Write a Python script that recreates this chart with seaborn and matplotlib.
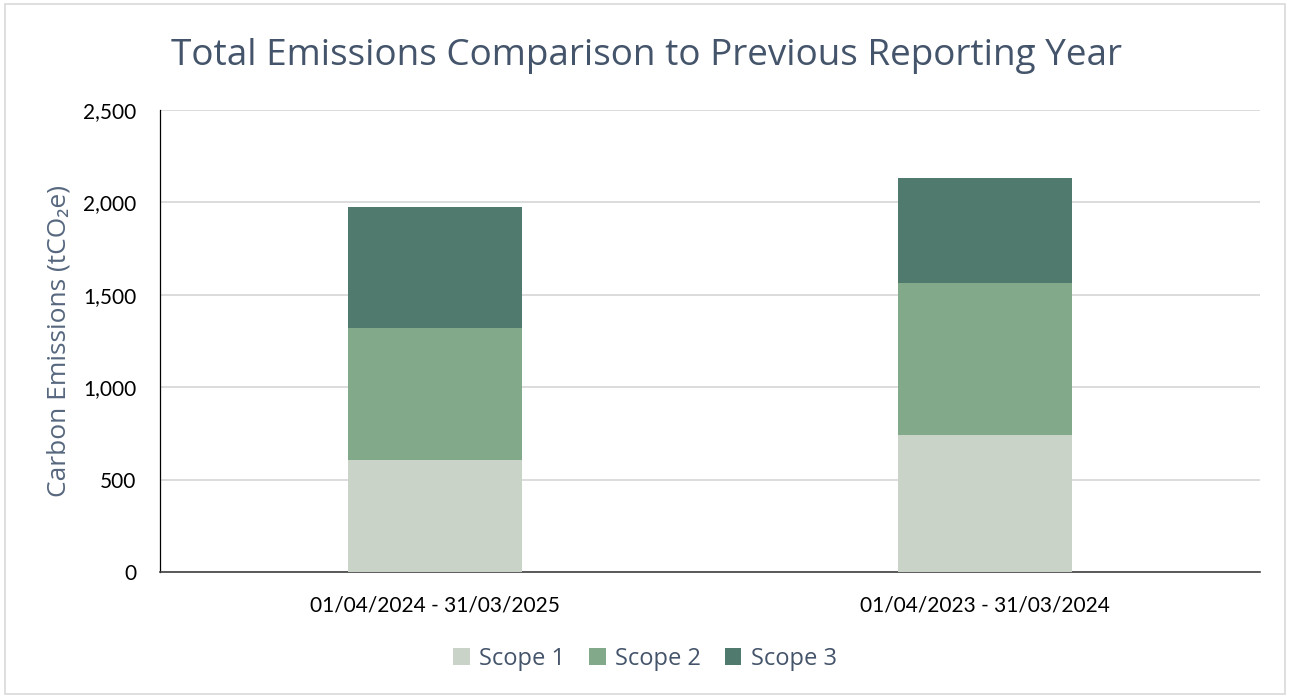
import matplotlib
matplotlib.use("Agg")
import matplotlib.pyplot as plt
from matplotlib.patches import Rectangle, Patch
from matplotlib.ticker import FuncFormatter
import seaborn as sns
import pandas as pd

# data
periods = ["01/04/2024 - 31/03/2025", "01/04/2023 - 31/03/2024"]
scope1 = [606, 741]
scope2 = [714, 823]
scope3 = [655, 568]
series_names = ["Scope 1", "Scope 2", "Scope 3"]
colors = ["#CAD3C8", "#82A98A", "#507A6E"]

sns.set_theme(style="white")
plt.rcParams["font.family"] = ["Open Sans", "DejaVu Sans"]

df = pd.DataFrame({"period": periods, "s1": scope1, "s2": scope2, "s3": scope3})
df["cum2"] = df["s1"] + df["s2"]
df["cum3"] = df["cum2"] + df["s3"]

fig = plt.figure(figsize=(12.9, 6.97), dpi=100)
ax = fig.add_axes([0.124, 0.1793, 0.8527, 0.6629])

# stacked bars by overlaying cumulative totals
for col, c in zip(["cum3", "cum2", "s1"], colors[::-1]):
    sns.barplot(data=df, x="period", y=col, color=c, width=0.315,
                saturation=1, linewidth=0, ax=ax, zorder=3)

ax.set_ylim(0, 2500)
ax.set_yticks([0, 500, 1000, 1500, 2000, 2500])
ax.yaxis.set_major_formatter(FuncFormatter(lambda v, p: f"{int(v):,}"))
ax.grid(axis="y", color="#D9D9D9", linewidth=1.3, zorder=0)
ax.set_axisbelow(True)
ax.set_xlabel("")
ax.set_ylabel("Carbon Emissions (tCO\u2082e)", fontsize=19, color="#56677E")
ax.yaxis.label.set_va("center")
ax.yaxis.set_label_coords(-0.092, 0.5)

for s in ["top", "right"]:
    ax.spines[s].set_visible(False)
ax.spines["left"].set_color("#000000")
ax.spines["left"].set_linewidth(0.9)
ax.spines["bottom"].set_color("#404040")
ax.spines["bottom"].set_linewidth(1.2)
ax.tick_params(axis="both", length=0)
ax.tick_params(axis="y", pad=17)
ax.tick_params(axis="x", pad=17)
for lab in ax.get_xticklabels() + ax.get_yticklabels():
    lab.set_family(["Lato", "DejaVu Sans"])
    lab.set_fontsize(15)
    lab.set_color("#000000")

fig.text(0.501, 0.92, "Total Emissions Comparison to Previous Reporting Year",
         ha="center", va="center", fontsize=26.6, color="#44546A")

handles = [Patch(facecolor=c, edgecolor="none") for c in colors]
fig.legend(handles, series_names, loc="center", bbox_to_anchor=(0.5, 0.055),
           ncol=3, frameon=False, fontsize=17, handlelength=0.7, handleheight=0.7,
           handletextpad=0.4, columnspacing=1.0, labelcolor="#44546A")

fig.patches.append(Rectangle((0.004, 0.004), 0.992, 0.99, transform=fig.transFigure,
                             fill=False, edgecolor="#D9D9D9", linewidth=1.2))

fig.savefig("out.png", dpi=100)
